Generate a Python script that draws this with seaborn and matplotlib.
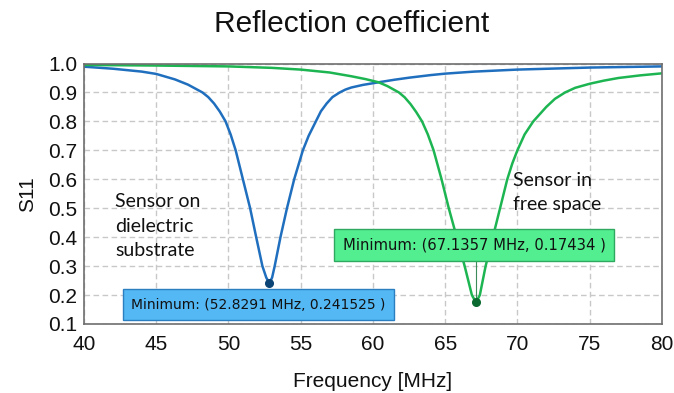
import matplotlib
matplotlib.use("Agg")
import matplotlib.pyplot as plt
import seaborn as sns
import pandas as pd

# ---- data ----
blue_f = [40.0, 42.0, 44.0, 45.0, 46.3, 47.2, 48.2, 48.6, 49.0, 49.4, 49.8, 50.15, 50.5,
          50.75, 51.0, 51.5, 51.92, 52.35, 52.62, 52.83, 53.02, 53.2, 53.6, 54.05, 54.55,
          55.15, 55.55, 56.05, 56.4, 56.8, 57.2, 57.7, 58.1, 58.5, 59.3, 60.5, 61.5, 62.5,
          64.0, 65.0, 67.0, 70.0, 75.0, 80.0]
blue_s = [0.989, 0.982, 0.972, 0.964, 0.945, 0.927, 0.900, 0.884, 0.862, 0.834, 0.800, 0.755, 0.700,
          0.650, 0.600, 0.500, 0.400, 0.300, 0.260, 0.2415, 0.260, 0.300, 0.400, 0.500, 0.600,
          0.700, 0.750, 0.800, 0.835, 0.862, 0.884, 0.900, 0.910, 0.917, 0.926, 0.936, 0.944, 0.951,
          0.960, 0.965, 0.972, 0.979, 0.986, 0.990]

green_f = [40.0, 45.0, 50.0, 53.0, 55.0, 57.0, 58.5, 59.5, 60.4, 61.0, 61.8, 62.2, 62.6, 63.0,
           63.4, 63.8, 64.2, 64.75, 65.25, 65.8, 66.35, 66.85, 67.1357, 67.4, 67.8, 68.3,
           68.8, 69.3, 69.65, 70.0, 70.5, 71.1, 72.0, 72.6, 73.3, 74.0, 75.0, 76.0, 77.0, 78.5, 80.0]
green_s = [0.995, 0.993, 0.990, 0.985, 0.979, 0.969, 0.956, 0.946, 0.935, 0.922, 0.900, 0.883, 0.860, 0.832,
           0.800, 0.755, 0.700, 0.600, 0.500, 0.400, 0.300, 0.200, 0.17434, 0.200, 0.300, 0.400,
           0.500, 0.600, 0.655, 0.700, 0.755, 0.800, 0.850, 0.878, 0.900, 0.916, 0.930, 0.941, 0.950, 0.959, 0.966]

blue_min = (52.8291, 0.241525)
green_min = (67.1357, 0.17434)

x_ticks = [40, 45, 50, 55, 60, 65, 70, 75, 80]
y_ticks = [0.1, 0.2, 0.3, 0.4, 0.5, 0.6, 0.7, 0.8, 0.9, 1.0]

BLUE = "#1f6fbe"
GREEN = "#1db552"

sns.set_theme(style="whitegrid")
plt.rcParams["font.family"] = ["Liberation Sans", "DejaVu Sans"]

df = pd.concat([
    pd.DataFrame({"f": blue_f, "s": blue_s, "series": "dielectric"}),
    pd.DataFrame({"f": green_f, "s": green_s, "series": "free"}),
])

fig = plt.figure(figsize=(6.74, 3.93), dpi=100)
ax = fig.add_axes([0.1246, 0.1756, 0.8574, 0.6628])

sns.lineplot(data=df, x="f", y="s", hue="series", palette={"dielectric": BLUE, "free": GREEN},
             ax=ax, linewidth=1.8, legend=False, sort=False, estimator=None)

ax.set_xlim(40, 80)
ax.set_ylim(0.1, 1.0)
ax.set_xticks(x_ticks)
ax.set_yticks(y_ticks)
ax.set_xticklabels([str(t) for t in x_ticks])
ax.set_yticklabels([f"{t:.1f}" for t in y_ticks])
ax.tick_params(axis="both", labelsize=15, colors="#111111", length=0)
ax.tick_params(axis="x", pad=8)
ax.tick_params(axis="y", pad=5)

ax.grid(True, color="#c8c8c8", linestyle=(0, (4, 2.5)), linewidth=1.0)
for sp in ax.spines.values():
    sp.set_color("#6e6e6e")
    sp.set_linewidth(1.2)

ax.set_xlabel("Frequency [MHz]", fontsize=15, color="#111111", labelpad=13)
ax.set_ylabel("S11", fontsize=15, color="#111111", labelpad=8)
fig.text(0.5223, 0.94, "Reflection coefficient", fontsize=21.5, ha="center", va="center",
         color="#111111")

# minimum markers
ax.plot([blue_min[0]], [blue_min[1]], "o", color="#0c4575", markersize=5.5, zorder=5)
ax.plot([green_min[0]], [green_min[1]], "o", color="#0b6a2f", markersize=5.5, zorder=5)
ax.plot([green_min[0], green_min[0]], [green_min[1], 0.33], color="#3d8a5a", linewidth=0.8, zorder=4)

# minimum labels
ax.text(43.25, 0.167, f"Minimum: ({blue_min[0]} MHz, {blue_min[1]} )", fontsize=10,
        family="DejaVu Sans", color="#111111", va="center", ha="left", zorder=6,
        bbox=dict(boxstyle="square,pad=0.6", facecolor="#54b8f5", edgecolor="#2b7fc0", linewidth=1))
ax.text(57.9, 0.373, f"Minimum: ({green_min[0]} MHz, {green_min[1]} )", fontsize=10.6,
        family="DejaVu Sans", color="#111111", va="center", ha="left", zorder=6,
        bbox=dict(boxstyle="square,pad=0.57", facecolor="#52ee90", edgecolor="#2fa860", linewidth=1))

# series annotations
ax.text(42.15, 0.4385, "Sensor on\ndielectric\nsubstrate", fontsize=14, family=["Lato", "DejaVu Sans"],
        color="#111111", va="center", ha="left", linespacing=1.55)
ax.text(69.7, 0.554, "Sensor in\nfree space", fontsize=14, family=["Lato", "DejaVu Sans"],
        color="#111111", va="center", ha="left", linespacing=1.5)

fig.savefig("out.png", dpi=100, facecolor="white")
